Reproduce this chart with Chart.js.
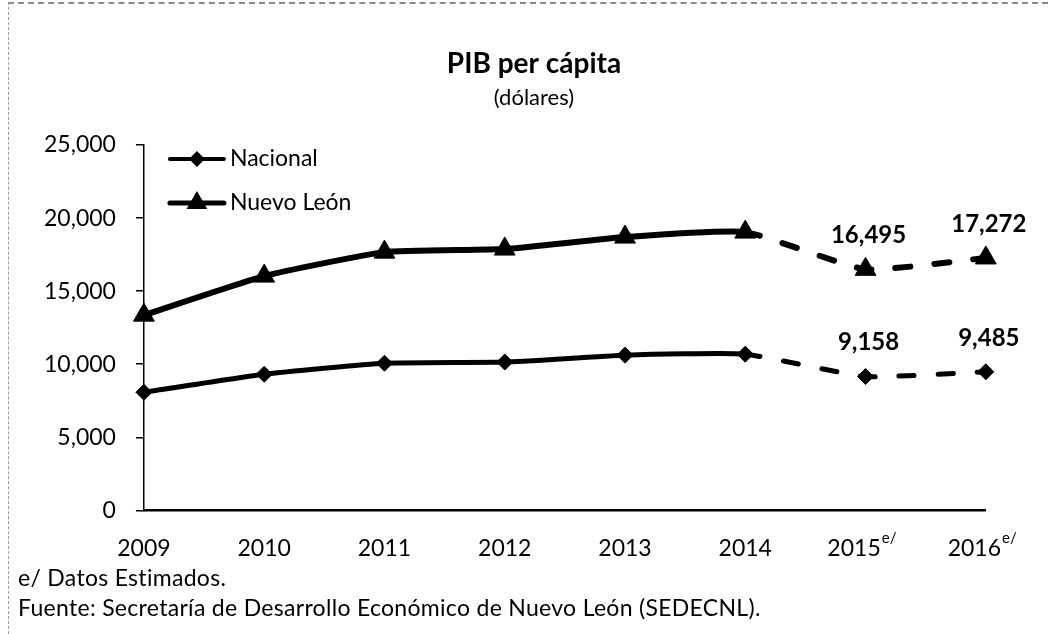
<!DOCTYPE html>
<html lang="es">
<head>
<meta charset="utf-8">
<title>PIB per cápita</title>
<script src="https://cdn.jsdelivr.net/npm/chart.js@4.4.1/dist/chart.umd.min.js"></script>
<style>
  body { margin: 0; background: #fff; }
  #wrap { position: relative; width: 1048px; height: 634px; font-family: Lato, "Open Sans", sans-serif; }
  #scan-edge { position: absolute; left: 8px; top: 2px; right: 0; bottom: 0; border-left: 1px dashed #9a9a9a; border-top: 2px dashed #8a8a8a; pointer-events: none; }
  .note { position: absolute; left: 18px; font-size: 23px; letter-spacing: 0.3px; color: #000; white-space: nowrap; }
</style>
</head>
<body>
<div id="wrap">
  <canvas id="pib-chart" width="1048" height="634"></canvas>
  <div class="note" style="top:563px">e/ Datos Estimados.</div>
  <div class="note" style="top:593px">Fuente: Secretaría de Desarrollo Económico de Nuevo León (SEDECNL).</div>
  <div id="scan-edge"></div>
</div>
<script>
  const years = ["2009", "2010", "2011", "2012", "2013", "2014", "2015", "2016"];
  const estimatedYears = ["2015", "2016"];
  const nacional = [8080, 9310, 10070, 10150, 10620, 10690, 9158, 9485];
  const nuevoLeon = [13360, 16030, 17670, 17880, 18700, 19040, 16495, 17272];
  const yTicks = [0, 5000, 10000, 15000, 20000, 25000];

  const FONT = 'Lato, "Open Sans", sans-serif';
  const isEstimated = i => estimatedYears.includes(years[i]);
  const fmt = v => v.toLocaleString("en-US");

  // dashed line for the estimated years
  const dashEstimated = ctx => (isEstimated(ctx.p1DataIndex) ? [15, 24] : undefined);

  // value labels above the estimated points
  const estimateLabels = {
    id: "estimateLabels",
    afterDatasetsDraw(chart) {
      const ctx = chart.ctx;
      ctx.save();
      ctx.font = `bold 24px ${FONT}`;
      ctx.fillStyle = "#000";
      ctx.textAlign = "center";
      ctx.textBaseline = "middle";
      chart.data.datasets.forEach((ds, di) => {
        chart.getDatasetMeta(di).data.forEach((pt, i) => {
          if (!isEstimated(i)) return;
          ctx.fillText(fmt(ds.data[i]), pt.x + 3, pt.y - 34);
        });
      });
      ctx.restore();
    }
  };

  // "e/" superscript after the estimated year ticks
  const tickSuperscript = {
    id: "tickSuperscript",
    afterDraw(chart) {
      const ctx = chart.ctx;
      const xs = chart.scales.x;
      const opts = xs.options.ticks;
      ctx.save();
      ctx.fillStyle = "#000";
      xs.ticks.forEach((t, i) => {
        if (!isEstimated(i)) return;
        ctx.font = `${opts.font.size}px ${FONT}`;
        const full = ctx.measureText(opts.callback(t.value, i)).width;
        const base = ctx.measureText(years[i]).width;
        const x = xs.getPixelForTick(i) - full / 2 + base + 1;
        ctx.font = `15px ${FONT}`;
        ctx.textAlign = "left";
        ctx.textBaseline = "top";
        ctx.fillText("e/", x, xs.top + opts.padding - 4);
      });
      ctx.restore();
    }
  };

  // excel style legend: line with marker, inside the plot
  const lineLegend = {
    id: "lineLegend",
    afterDraw(chart) {
      const ctx = chart.ctx;
      const left = chart.chartArea.left + 26;
      let y = chart.chartArea.top + 14;
      chart.data.datasets.forEach(ds => {
        ctx.save();
        ctx.strokeStyle = "#000";
        ctx.fillStyle = "#000";
        ctx.lineWidth = ds.borderWidth - 1;
        ctx.lineCap = "round";
        ctx.beginPath();
        ctx.moveTo(left, y);
        ctx.lineTo(left + 54, y);
        ctx.stroke();
        const cx = left + 27;
        const r = ds.pointRadius;
        ctx.beginPath();
        if (ds.pointStyle === "triangle") {
          ctx.moveTo(cx, y - r);
          ctx.lineTo(cx + r * 0.866, y + r / 2);
          ctx.lineTo(cx - r * 0.866, y + r / 2);
        } else {
          ctx.moveTo(cx - r, y);
          ctx.lineTo(cx, y - r);
          ctx.lineTo(cx + r, y);
          ctx.lineTo(cx, y + r);
        }
        ctx.closePath();
        ctx.fill();
        ctx.font = `23px ${FONT}`;
        ctx.textAlign = "left";
        ctx.textBaseline = "middle";
        ctx.fillText(ds.label, left + 60, y);
        ctx.restore();
        y += 44;
      });
    }
  };

  const datasets = [
    {
      label: "Nacional",
      data: nacional,
      borderColor: "#000",
      backgroundColor: "#000",
      borderWidth: 5,
      pointStyle: "rectRot",
      pointRadius: 8,
      pointHoverRadius: 8,
      pointBackgroundColor: "#000",
      pointBorderColor: "#000",
      pointBorderWidth: 1,
      tension: 0.15,
      borderCapStyle: "round",
      borderJoinStyle: "round",
      segment: { borderDash: dashEstimated }
    },
    {
      label: "Nuevo León",
      data: nuevoLeon,
      borderColor: "#000",
      backgroundColor: "#000",
      borderWidth: 6,
      pointStyle: "triangle",
      pointRadius: 12,
      pointHoverRadius: 12,
      pointBackgroundColor: "#000",
      pointBorderColor: "#000",
      pointBorderWidth: 1,
      tension: 0.15,
      borderCapStyle: "round",
      borderJoinStyle: "round",
      segment: { borderDash: dashEstimated }
    }
  ];

  new Chart(document.getElementById("pib-chart"), {
    type: "line",
    data: { labels: years, datasets: datasets },
    plugins: [estimateLabels, tickSuperscript, lineLegend],
    options: {
      responsive: false,
      animation: false,
      events: [],
      layout: { padding: { left: 24, right: 4, top: 0, bottom: 48 } },
      plugins: {
        legend: { display: false },
        tooltip: { enabled: false },
        title: {
          display: true,
          text: "PIB per cápita",
          color: "#000",
          font: { family: FONT, size: 28, weight: "bold" },
          padding: { top: 47, bottom: 4 }
        },
        subtitle: {
          display: true,
          text: "(dólares)",
          color: "#000",
          font: { family: FONT, size: 22 },
          padding: { top: 0, bottom: 34 }
        }
      },
      scales: {
        x: {
          offset: false,
          ticks: {
            color: "#000",
            font: { family: FONT, size: 23 },
            padding: 24,
            maxRotation: 0,
            autoSkip: false,
            callback: (v, i) => (isEstimated(i) ? years[i] + "\u2002\u2002" : years[i])
          },
          grid: { display: false, drawTicks: false },
          border: { display: true, color: "#000", width: 2.5 }
        },
        y: {
          min: 0,
          max: 25000,
          afterBuildTicks: axis => {
            axis.ticks = yTicks.map(v => ({ value: v }));
          },
          ticks: {
            color: "#000",
            font: { family: FONT, size: 23 },
            padding: 20,
            callback: v => fmt(v)
          },
          grid: { drawOnChartArea: false, drawTicks: true, tickLength: 8, color: "#000", lineWidth: 1.5 },
          border: { display: true, color: "#000", width: 1.5 }
        }
      }
    }
  });
</script>
</body>
</html>
